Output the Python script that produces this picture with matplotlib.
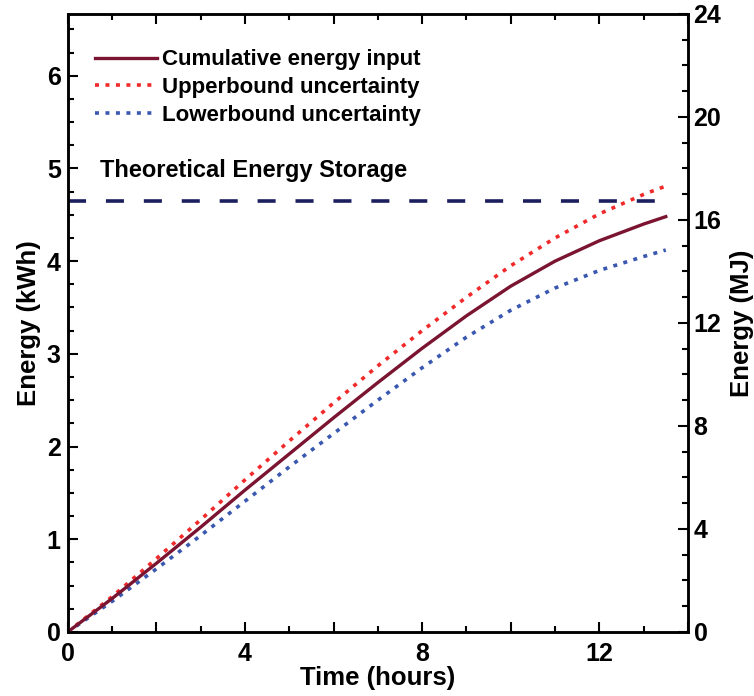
import matplotlib
matplotlib.use("Agg")
from matplotlib import pyplot as plt
from matplotlib.ticker import MultipleLocator, FuncFormatter

plt.rcParams['font.family'] = ['Liberation Sans', 'DejaVu Sans']
plt.rcParams['font.weight'] = 'bold'

# data
hours = [0, 1, 2, 3, 4, 5, 6, 7, 8, 9, 10, 11, 12, 13, 13.5]
cumulative = [0, 0.36, 0.74, 1.13, 1.53, 1.92, 2.31, 2.69, 3.06, 3.41, 3.73, 4.00, 4.22, 4.40, 4.48]
upper = [0, 0.38, 0.79, 1.21, 1.64, 2.06, 2.47, 2.87, 3.25, 3.61, 3.95, 4.25, 4.51, 4.72, 4.81]
lower = [0, 0.33, 0.68, 1.04, 1.41, 1.78, 2.14, 2.50, 2.85, 3.18, 3.47, 3.71, 3.90, 4.05, 4.12]
storage_kwh = 4.65
storage_span = [0, 13.5]

fig = plt.figure(figsize=(7.54, 6.96), dpi=100)
ax = fig.add_axes([0.0898, 0.092, 0.8226, 0.888])

ax.plot(hours, cumulative, color='#7a1430', lw=2.4, label='Cumulative energy input', zorder=4)
ax.plot(hours, upper, color='#f02a2a', lw=2.6, linestyle=(0, (1.1, 1.8)),
        label='Upperbound uncertainty', zorder=3)
ax.plot(hours, lower, color='#3a58b0', lw=2.6, linestyle=(0, (1.1, 1.8)),
        label='Lowerbound uncertainty', zorder=3)
ax.plot(storage_span, [storage_kwh, storage_kwh], color='#1c1f5e', lw=2.6,
        linestyle=(0, (5, 5.5)), zorder=2)

ax.text(0.72, 4.98, 'Theoretical Energy Storage', fontsize=17, fontweight='bold',
        va='center', ha='left')

ax.set_xlim(0, 14)
ax.set_ylim(0, 24 / 3.6)

ax.xaxis.set_major_locator(MultipleLocator(2))
ax.xaxis.set_minor_locator(MultipleLocator(1))
ax.xaxis.set_major_formatter(FuncFormatter(lambda v, p: f"{v:.0f}" if round(v) % 4 == 0 else ""))
ax.yaxis.set_major_locator(MultipleLocator(1))
ax.yaxis.set_minor_locator(MultipleLocator(0.25))

ax.tick_params(which='both', direction='in', top=True, right=False, width=1.5,
               labelsize=18)
ax.tick_params(axis='y', pad=5)
ax.tick_params(axis='x', pad=7)
ax.tick_params(which='major', length=7.5)
ax.tick_params(which='minor', length=4.5)
for sp in ax.spines.values():
    sp.set_linewidth(1.8)

ax.set_xlabel('Time (hours)', fontsize=18.5, fontweight='bold', labelpad=0)
ax.set_ylabel('Energy (kWh)', fontsize=18.5, fontweight='bold', labelpad=4)

ax2 = ax.twinx()
ax2.set_ylim(0, 24)
ax2.yaxis.set_major_locator(MultipleLocator(4))
ax2.yaxis.set_minor_locator(MultipleLocator(1))
ax2.tick_params(which='both', direction='in', width=1.5, labelsize=18, pad=4)
ax2.tick_params(which='major', length=7.5)
ax2.tick_params(which='minor', length=4.5)
for sp in ax2.spines.values():
    sp.set_linewidth(1.8)
ax2.set_ylabel('Energy (MJ)', fontsize=18.5, fontweight='bold', labelpad=6)

leg = ax.legend(loc='upper left', bbox_to_anchor=(0.011, 0.975), frameon=False,
                fontsize=16, handlelength=2.8, handletextpad=0.25, labelspacing=0.3)

fig.savefig('out.png', dpi=100)
